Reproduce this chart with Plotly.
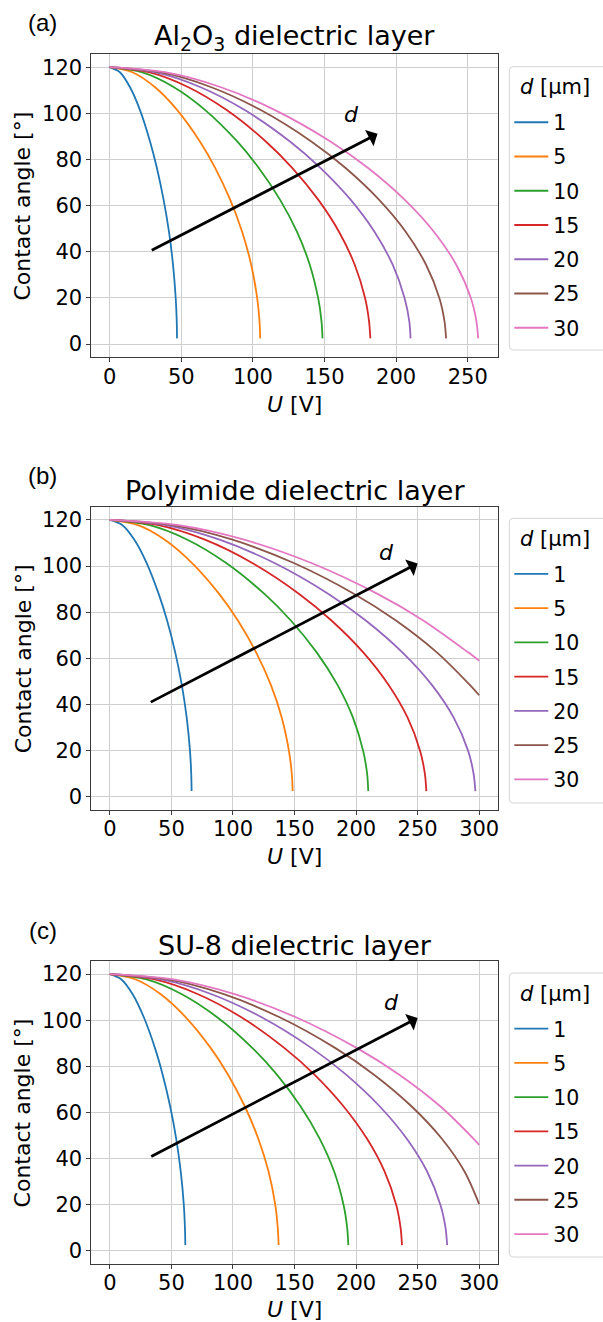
import plotly.graph_objects as go

# ---------------- data ----------------
thickness = [1, 5, 10, 15, 20, 25, 30]          # d [um]
colors = ["#1f77b4", "#ff7f0e", "#2ca02c", "#d62728", "#9467bd", "#8c564b", "#e377c2"]

# contact-angle levels at which the voltage was read for each curve
theta_levels = [120, 117.8, 111.4, 101.3, 87.7, 76.4, 62.6, 48.6, 34.4, 19.8, 9.9, 2.5]

# (a) Al2O3
al2o3_U = [
    [0, 7.1, 14.1, 21.2, 28.2, 32.9, 37.6, 41.4, 44.2, 46.1, 46.8, 47.0],
    [0, 15.8, 31.5, 47.3, 63.1, 73.6, 84.1, 92.5, 98.8, 103.0, 104.6, 105.1],
    [0, 22.3, 44.6, 66.9, 89.2, 104.0, 118.9, 130.8, 139.7, 145.6, 147.9, 148.6],
    [0, 27.3, 54.6, 81.9, 109.2, 127.4, 145.6, 160.2, 171.1, 178.4, 181.1, 182.0],
    [0, 31.5, 63.1, 94.6, 126.1, 147.1, 168.2, 185.0, 197.6, 206.0, 209.2, 210.1],
    [0, 35.3, 70.5, 105.8, 141.0, 164.5, 188.0, 206.8, 220.9, 230.3, 233.8, 234.9],
    [0, 38.6, 77.2, 115.8, 154.4, 180.2, 205.9, 226.5, 242.0, 252.3, 256.1, 257.3],
]
al2o3_theta = [theta_levels] * 7

# (b) Polyimide
poly_U = [
    [0, 10.0, 19.9, 29.9, 39.8, 46.5, 53.1, 58.4, 62.4, 65.1, 66.1, 66.4],
    [0, 22.3, 44.6, 66.8, 89.1, 104.0, 118.8, 130.7, 139.6, 145.5, 147.8, 148.5],
    [0, 31.5, 63.0, 94.5, 126.0, 147.0, 168.0, 184.8, 197.4, 205.8, 209.0, 209.9],
    [0, 38.6, 77.2, 115.7, 154.3, 180.0, 205.8, 226.3, 241.8, 252.1, 255.9, 257.1],
    [0, 44.6, 89.1, 133.7, 178.2, 207.9, 237.6, 261.4, 279.2, 291.1, 295.5, 296.9],
    [0, 49.8, 99.6, 149.4, 199.2, 232.4, 265.6, 292.2, 300],
    [0, 54.6, 109.1, 163.7, 218.2, 254.6, 291.0, 300],
]
poly_theta = [theta_levels] * 5 + [
    [120, 117.8, 111.4, 101.3, 87.7, 76.4, 62.6, 48.6, 44.0],
    [120, 117.8, 111.4, 101.3, 87.7, 76.4, 62.6, 59.0],
]

# (c) SU-8
su8_U = [
    [0, 9.2, 18.4, 27.6, 36.8, 42.9, 49.0, 53.9, 57.6, 60.1, 61.0, 61.3],
    [0, 20.6, 41.1, 61.7, 82.3, 96.0, 109.7, 120.6, 128.9, 134.4, 136.4, 137.1],
    [0, 29.1, 58.1, 87.2, 116.3, 135.7, 155.0, 170.5, 182.2, 189.9, 192.8, 193.7],
    [0, 35.6, 71.2, 106.8, 142.4, 166.2, 189.9, 208.9, 223.2, 232.7, 236.2, 237.3],
    [0, 41.1, 82.2, 123.3, 164.5, 191.9, 219.3, 241.2, 257.7, 268.6, 272.7, 274.0],
    [0, 46.0, 92.0, 137.9, 183.9, 214.6, 245.2, 269.7, 288.1, 300],
    [0, 50.4, 100.7, 151.1, 201.5, 235.1, 268.6, 295.5, 300],
]
su8_theta = [theta_levels] * 5 + [
    [120, 117.8, 111.4, 101.3, 87.7, 76.4, 62.6, 48.6, 34.4, 20.3],
    [120, 117.8, 111.4, 101.3, 87.7, 76.4, 62.6, 48.6, 46.0],
]

panel_titles = ["Al<sub>2</sub>O<sub>3</sub> dielectric layer",
                "Polyimide dielectric layer",
                "SU-8 dielectric layer"]
panel_tags = ["(a)", "(b)", "(c)"]
legend_title = "<i>d</i> [μm]"
x_ticks = [[0, 50, 100, 150, 200, 250], [0, 50, 100, 150, 200, 250, 300],
           [0, 50, 100, 150, 200, 250, 300]]
y_ticks = [0, 20, 40, 60, 80, 100, 120]
x_ranges = [[-12.8, 270.9], [-15, 315], [-15, 315]]
y_range = [-5.7, 125.7]

# arrows "d increases": tail (U, theta) -> head (U, theta), and label position
arrow_tail = [(28.3, 40.3), (32, 40.7), (32.4, 40.6)]
arrow_head = [(187, 91.1), (250, 101.1), (250, 101.0)]
arrow_label = [(169, 99.4), (225, 105.7), (229, 107.5)]

# ---------------- layout geometry (pixels) ----------------
W, H = 603, 1322
plot_left, plot_right = 91.7, 499.3
plot_tops = [54, 506.7, 961]
plot_bottoms = [357.3, 810, 1264]
legend_box_tops = [66.7, 518.3, 973]
legend_box_bottoms = [350, 803, 1257]
legend_left = 511
xlabel_offsets = [47, 46, 45]


def py(p):
    return 1 - p / H


def px(p):
    return p / W


FONT = "DejaVu Sans"
fig = go.Figure()

series = [(al2o3_U, al2o3_theta), (poly_U, poly_theta), (su8_U, su8_theta)]
for k, (Us, Ts) in enumerate(series):
    sfx = "" if k == 0 else str(k + 1)
    for i, d in enumerate(thickness):
        fig.add_trace(go.Scatter(
            x=Us[i], y=Ts[i], mode="lines", name=str(d),
            line=dict(color=colors[i], width=1.8, shape="spline", smoothing=0.8),
            xaxis="x" + sfx, yaxis="y" + sfx,
            legend="legend" + sfx, legendgroup=f"p{k}d{d}", showlegend=True,
            hoverinfo="skip",
        ))

layout = dict(
    width=W, height=H, autosize=False,
    margin=dict(l=0, r=0, t=0, b=0),
    paper_bgcolor="white", plot_bgcolor="white",
    font=dict(family=FONT, color="black", size=20),
)

annotations = []
shapes = []
for k in range(3):
    sfx = "" if k == 0 else str(k + 1)
    axis_common = dict(
        showgrid=True, gridcolor="#cfcfcf", gridwidth=1, zeroline=False,
        showline=True, linecolor="#3a3a3a", linewidth=1, mirror=True,
        ticks="outside", ticklen=4, tickwidth=1, tickcolor="#3a3a3a",
        tickfont=dict(family=FONT, size=21, color="black"),
    )
    layout["xaxis" + sfx] = dict(
        domain=[px(plot_left), px(plot_right)], range=x_ranges[k],
        tickvals=x_ticks[k], anchor="y" + sfx, ticklabelstandoff=-4, **axis_common)
    layout["yaxis" + sfx] = dict(
        domain=[py(plot_bottoms[k]), py(plot_tops[k])], range=y_range,
        tickvals=y_ticks, anchor="x" + sfx, **axis_common)

    # legend frame (rounded left corners, running off the right edge like the reference)
    t, b = legend_box_tops[k], legend_box_bottoms[k]
    L, R, r = legend_left, W + 20, 4
    path = (f"M {px(R)},{py(t)} L {px(L + r)},{py(t)} "
            f"Q {px(L)},{py(t)} {px(L)},{py(t + r)} "
            f"L {px(L)},{py(b - r)} Q {px(L)},{py(b)} {px(L + r)},{py(b)} "
            f"L {px(R)},{py(b)} Z")
    shapes.append(dict(type="path", path=path, xref="paper", yref="paper",
                       line=dict(color="#d4d4d4", width=1), fillcolor="white",
                       layer="above"))
    layout["legend" + sfx] = dict(
        x=px(legend_left), y=py(t + 57.3 - 21.6), xanchor="left", yanchor="top",
        xref="paper", yref="paper",
        bgcolor="rgba(0,0,0,0)", borderwidth=0,
        font=dict(family=FONT, size=20.5, color="black"),
        tracegroupgap=4.6, itemwidth=34,
    )
    annotations.append(dict(
        text=legend_title, x=px(legend_left + 9), y=py(t + 20.5), xref="paper", yref="paper",
        xanchor="left", yanchor="middle", showarrow=False,
        font=dict(family=FONT, size=21, color="black")))

    xc = (plot_left + plot_right) / 2
    # title
    annotations.append(dict(
        text=panel_titles[k], x=px(xc), y=py(plot_tops[k] - 16), xref="paper", yref="paper",
        xanchor="center", yanchor="middle", showarrow=False,
        font=dict(family=FONT, size=27, color="black")))
    # panel tag
    annotations.append(dict(
        text=panel_tags[k], x=px(43), y=py(plot_tops[k] - 31), xref="paper", yref="paper",
        xanchor="center", yanchor="middle", showarrow=False,
        font=dict(family="Liberation Sans", size=24, color="black")))
    # x label
    annotations.append(dict(
        text="<i>U</i> [V]", x=px(xc), y=py(plot_bottoms[k] + xlabel_offsets[k]),
        xref="paper", yref="paper",
        xanchor="center", yanchor="middle", showarrow=False,
        font=dict(family=FONT, size=22, color="black")))
    # y label
    annotations.append(dict(
        text="Contact angle [°]", x=px(23), y=py((plot_tops[k] + plot_bottoms[k]) / 2),
        xref="paper", yref="paper", textangle=-90,
        xanchor="center", yanchor="middle", showarrow=False,
        font=dict(family=FONT, size=22, color="black")))
    # arrow
    annotations.append(dict(
        x=arrow_head[k][0], y=arrow_head[k][1], ax=arrow_tail[k][0], ay=arrow_tail[k][1],
        xref="x" + sfx, yref="y" + sfx, axref="x" + sfx, ayref="y" + sfx,
        text="", showarrow=True, arrowhead=1, arrowsize=1.1, arrowwidth=2.8,
        arrowcolor="black", standoff=0, startstandoff=0))
    annotations.append(dict(
        x=arrow_label[k][0], y=arrow_label[k][1], xref="x" + sfx, yref="y" + sfx,
        text="<i>d</i>", showarrow=False, xanchor="center", yanchor="middle",
        font=dict(family=FONT, size=22, color="black")))

layout["annotations"] = annotations
layout["shapes"] = shapes
fig.update_layout(**layout)
# remove the browser's default 8px body margin so the figure fills the window exactly
fig.write_html("out.html",
               config={"displayModeBar": False},
               post_script="document.body.style.margin='0px';document.body.style.overflow='hidden';")
